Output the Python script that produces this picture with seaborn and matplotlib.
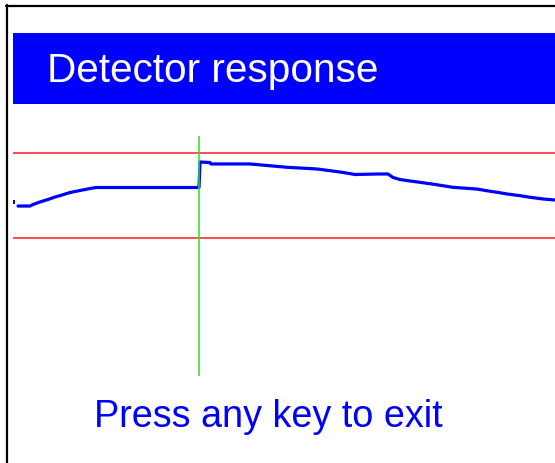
import numpy as np
import pandas as pd
import matplotlib
matplotlib.use("Agg")
import matplotlib.pyplot as plt
from matplotlib.patches import Rectangle
from matplotlib.lines import Line2D
import seaborn as sns

# detector trace (time in us, response normalised to the threshold band)
time_us = [5, 17, 20, 27, 35, 42, 49, 57, 67, 77, 83, 186, 187, 197, 198, 237,
           274, 304, 317, 329, 342, 365, 375, 380, 387, 397, 407, 419, 430, 440,
           464, 474, 484, 494, 507, 517, 530, 542]
response = [0.376, 0.376, 0.394, 0.424, 0.453, 0.482, 0.506, 0.535, 0.559, 0.582,
            0.594, 0.594, 0.894, 0.888, 0.871, 0.871, 0.832, 0.812, 0.792, 0.773,
            0.747, 0.753, 0.753, 0.712, 0.688, 0.671, 0.655, 0.635, 0.615, 0.596,
            0.576, 0.556, 0.538, 0.518, 0.498, 0.479, 0.459, 0.447]
first_sample = (0, 0.427)
trigger_us = 186
lower_thr, upper_thr = 0.0, 1.0

title = "Detector response"
footer = "Press any key to exit"

sns.set_theme(style="white")
plt.rcParams['font.family'] = ['Liberation Sans', 'DejaVu Sans']

W, H = 555, 464
fig = plt.figure(figsize=(W / 100, H / 100), dpi=100)
fig.patch.set_facecolor("white")

# screen chrome drawn in pixel coordinates
bg = fig.add_axes([0, 0, 1, 1])
bg.set_xlim(0, W)
bg.set_ylim(H, 0)
bg.axis("off")
bg.add_line(Line2D([6.5, 6.5], [6, H], color="black", lw=1.6))
bg.add_line(Line2D([6, W], [6.5, 6.5], color="black", lw=1.6))
bg.add_patch(Rectangle((13, 33.5), W - 13, 71, facecolor="#0000ff", edgecolor="none"))
bg.text(47, 82.5, title, color="white", fontsize=29.2, va="baseline", ha="left")
bg.text(268.5, 427.5, footer, color="#0000ff", fontsize=27.2, va="baseline", ha="center")

# trace axes
left, right, top, bottom = 13, 555, 137, 377
ax = fig.add_axes([left / W, (H - bottom) / H, (right - left) / W, (bottom - top) / H])
ax.patch.set_alpha(0)
df = pd.DataFrame({"t": time_us, "v": response})
sns.lineplot(data=df, x="t", y="v", color="#0000ff", lw=2.3, estimator=None, ax=ax)
ax.plot(*first_sample, "s", color="#0000ff", ms=2.2, mew=0)
ax.axhline(upper_thr, color="#ff1a1a", lw=1.1)
ax.axhline(lower_thr, color="#ff1a1a", lw=1.1)
ax.axvline(trigger_us, color="#22e622", lw=1.1)

ax.set_xlim(0, right - left)
ax.set_ylim((239 - bottom) / 85, (239 - top) / 85)
ax.axis("off")

fig.savefig("out.png", dpi=100)
